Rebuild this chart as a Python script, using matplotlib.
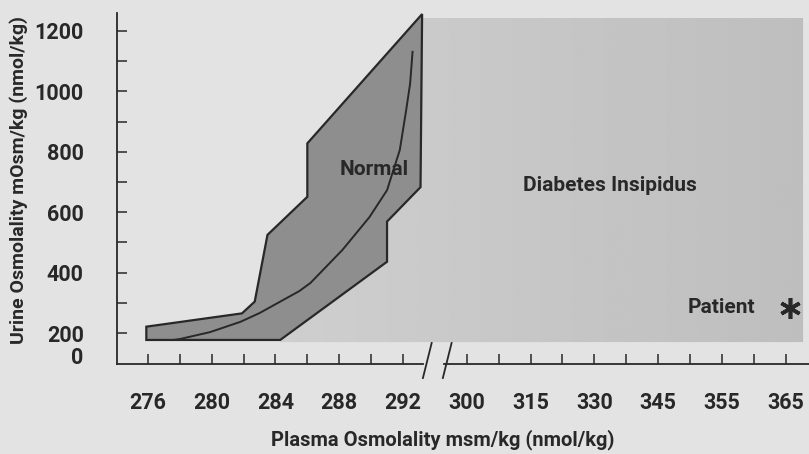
import matplotlib
matplotlib.use("Agg")
import matplotlib.pyplot as plt
import numpy as np

plt.rcParams['font.family'] = ['Roboto', 'DejaVu Sans']
plt.rcParams['font.weight'] = 'bold'

# ---- data ----
# normal band outline: upper edge left->right, then lower edge right->left
normal_upper_x = [275.9, 281.9, 282.7, 283.5, 286.0, 286.0, 293.2]
normal_upper_y = [221, 265, 304, 525, 651, 828, 1256]
normal_lower_x = [293.1, 291.0, 291.0, 284.3, 275.9]
normal_lower_y = [683, 569, 436, 177, 177]

# normal response curve
curve_x = [277.6, 278.0, 279.9, 281.8, 283.0, 285.5, 286.2, 288.2, 289.9, 291.0, 291.8, 292.2, 292.45, 292.6]
curve_y = [177, 180, 203, 237, 266, 339, 366, 475, 584, 673, 806, 938, 1027, 1131]

# diabetes insipidus region (right edge / top / bottom)
di_right = 317.1
di_top = 1243
di_bottom = 170

# patient marker
patient_x = [316.3]
patient_y = [283]

# axis ticks
left_ticks = [276, 278, 280, 282, 284, 286, 288, 290, 292]
left_labels = ['276', '', '280', '', '284', '', '288', '', '292']
right_ticks = [296, 298, 300, 302, 304, 306, 308, 310, 312, 314, 316]
right_labels = ['300', '', '315', '', '330', '', '345', '', '355', '', '365']
y_major = [200, 400, 600, 800, 1000, 1200]
y_minor = [300, 500, 700, 900, 1100]

# ---- plot ----
bg = '#e3e3e3'
ink = '#282828'
fig = plt.figure(figsize=(8.09, 4.54), dpi=100, facecolor=bg)
ax = fig.add_axes([117/809, 90/454, 692/809, 351/454])
ax.set_facecolor('none')

# diabetes insipidus region (soft gradient, clipped to its outline)
di_x = [normal_upper_x[-1], di_right, di_right, normal_lower_x[3]] + normal_lower_x[2::-1]
di_y = [di_top, di_top, di_bottom, di_bottom] + normal_lower_y[2::-1]
di_patch = ax.fill(di_x, di_y, color='#c0c0c0', lw=0, zorder=1)[0]
grad = np.linspace(0.81, 0.745, 200).reshape(1, -1)
im = ax.imshow(grad, cmap='gray', vmin=0, vmax=1, aspect='auto', zorder=1.1,
               extent=[284.3, di_right, di_bottom, di_top], interpolation='bilinear')
im.set_clip_path(di_patch)

# normal band
band_x = normal_upper_x + normal_lower_x
band_y = normal_upper_y + normal_lower_y
ax.fill(band_x, band_y, facecolor='#8e8e8e', edgecolor=ink, lw=1.6, zorder=2)
ax.plot(curve_x, curve_y, color=ink, lw=1.4, zorder=3)
ax.set_xlim(274.06, 317.47)
ax.set_ylim(97.4, 1259.6)

# text labels
ax.text(288.05, 740, 'Normal', fontsize=15, color=ink, ha='left', va='center', zorder=4)
ax.text(305.0, 687, 'Diabetes Insipidus', fontsize=15, color=ink, ha='center', va='center', zorder=4)
ax.text(311.95, 286, 'Patient', fontsize=15, color=ink, ha='center', va='center', zorder=4)
ax.plot(patient_x, patient_y, marker=(6, 2, 0), ms=15, mew=2.6, color=ink, ls='none', zorder=4)

# spines
for s in ['top', 'right', 'bottom']:
    ax.spines[s].set_visible(False)
ax.spines['left'].set_color(ink)
ax.spines['left'].set_linewidth(1.3)

# broken x axis
ybase = 97.4
ax.plot([274.06, 293.25], [ybase, ybase], color=ink, lw=1.3, clip_on=False)
ax.plot([294.6, 317.47], [ybase, ybase], color=ink, lw=1.3, clip_on=False)
ax.plot([293.25, 293.8], [51, 167], color=ink, lw=1.3, clip_on=False)
ax.plot([294.5, 295.05], [51, 167], color=ink, lw=1.3, clip_on=False)

ax.set_xticks(left_ticks + right_ticks)
ax.set_xticklabels(left_labels + right_labels)
ax.tick_params(axis='x', direction='in', length=7, width=1.1, color=ink,
               pad=20, labelsize=15.5, labelcolor=ink)

ax.set_yticks([127] + y_major)
ax.set_yticklabels(['0'] + [str(v) for v in y_major])
ax.set_yticks(y_minor, minor=True)
ax.get_yticklines()[0].set_visible(False)
ax.tick_params(axis='y', which='both', direction='in', length=7, width=1.1, color=ink,
               pad=24, labelsize=15.5, labelcolor=ink)

fig.text(443/809, 1 - 440/454, 'Plasma Osmolality msm/kg (nmol/kg)', fontsize=14.5,
         color=ink, ha='center', va='center')
fig.text(19/809, 1 - 180/454, 'Urine Osmolality mOsm/kg (nmol/kg)', fontsize=14,
         color=ink, ha='center', va='center', rotation=90)

fig.savefig('out.png', dpi=100, facecolor=bg)
